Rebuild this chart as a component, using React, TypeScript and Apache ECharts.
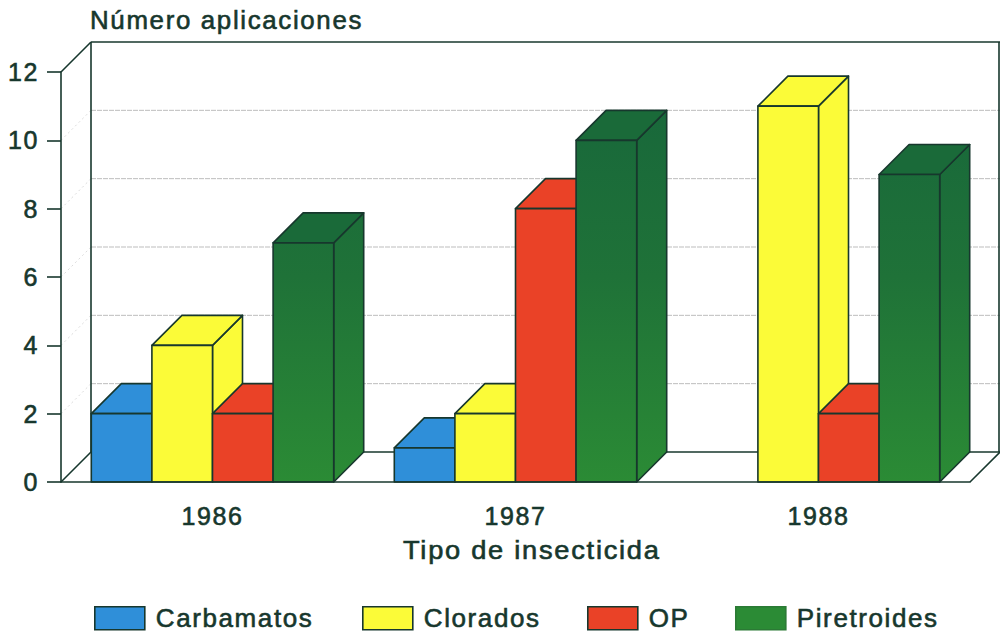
import React, { useEffect, useRef } from "react";
import * as echarts from "echarts";

const categories = ["1986", "1987", "1988"];
const seriesNames = ["Carbamatos", "Clorados", "OP", "Piretroides"];
const carbamatos = [2, 1, 0];
const clorados = [4, 2, 11];
const op = [2, 8, 2];
const piretroides = [7, 10, 9];
const gridValues = [2, 4, 6, 8, 10];
const allValues = [carbamatos, clorados, op, piretroides];
const yTitle = "Número aplicaciones";
const xTitle = "Tipo de insecticida";

const INK = "#17372d";
const FONT = "'Liberation Sans', Arial, sans-serif";
const DEPTH = 30;
const BAR_SHARE = 0.2;
const heavy = { textBorderColor: INK, textBorderWidth: 0.6 };

const greenFill = (api: any) => {
  const top = api.coord([0, 12])[1];
  const bottom = api.coord([0, 0])[1];
  return {
    type: "linear",
    global: true,
    x: 0,
    y: top,
    x2: 0,
    y2: bottom,
    colorStops: [
      { offset: 0, color: "#17663b" },
      { offset: 0.5, color: "#1f7238" },
      { offset: 1, color: "#2b8b35" },
    ],
  };
};

const faces = [
  () => ({ front: "#2f8fd9", side: "#2f8fd9", top: "#2f8fd9" }),
  () => ({ front: "#fbfb38", side: "#fbfb38", top: "#fbfb38" }),
  () => ({ front: "#ea4227", side: "#ea4227", top: "#ea4227" }),
  (api: any) => ({ front: greenFill(api), side: greenFill(api), top: "#1a6a39" }),
];

const polygon = (points: number[][], fill: any, stroke = INK) => ({
  type: "polygon",
  shape: { points },
  style: { fill, stroke, lineWidth: 1.6, lineJoin: "round" },
});

const barRenderer = (index: number) => (params: any, api: any) => {
  const value = api.value(1);
  if (!value) return { type: "group", children: [] };
  const [cx, y0] = api.coord([api.value(0), 0]);
  const [, y1] = api.coord([api.value(0), value]);
  const w = api.size([1, 0])[0] * BAR_SHARE;
  const x0 = cx + (index - 2) * w;
  const x1 = x0 + w;
  const f = faces[index](api);
  return {
    type: "group",
    children: [
      polygon([[x1, y0], [x1 + DEPTH, y0 - DEPTH], [x1 + DEPTH, y1 - DEPTH], [x1, y1]], f.side),
      polygon([[x0, y1], [x0 + DEPTH, y1 - DEPTH], [x1 + DEPTH, y1 - DEPTH], [x1, y1]], f.top),
      polygon([[x0, y0], [x1, y0], [x1, y1], [x0, y1]], f.front),
    ],
  };
};

const wallRenderer = (params: any, api: any) => {
  const band = api.size([1, 0])[0];
  const left = api.coord([0, 0])[0] - band / 2;
  const right = api.coord([categories.length - 1, 0])[0] + band / 2;
  const bottom = api.coord([0, 0])[1];
  const top = api.coord([0, 12])[1];
  const line = (x1: number, y1: number, x2: number, y2: number, stroke = INK, lineWidth = 1.6, lineDash?: number[]) => ({
    type: "line",
    shape: { x1, y1, x2, y2 },
    style: { stroke, lineWidth, lineDash },
  });
  return {
    type: "group",
    children: [
      ...gridValues.flatMap((v) => {
        const y = api.coord([0, v])[1];
        return [
          line(left, y, left + DEPTH, y - DEPTH, "#dcdcdc", 1, [2, 3]),
          line(left + DEPTH, y - DEPTH, right + DEPTH, y - DEPTH, "#bdbdbd", 1, [5, 1]),
        ];
      }),
      line(left, top, left + DEPTH, top - DEPTH),
      line(left + DEPTH, top - DEPTH, right + DEPTH, top - DEPTH),
      line(left + DEPTH, top - DEPTH, left + DEPTH, bottom - DEPTH),
      line(right + DEPTH - 1, top - DEPTH, right + DEPTH - 1, bottom - DEPTH),
      line(left + DEPTH, bottom - DEPTH, right + DEPTH, bottom - DEPTH),
      line(left, bottom, left + DEPTH, bottom - DEPTH),
      line(right, bottom, right + DEPTH, bottom - DEPTH),
    ],
  };
};

const legendLefts = [94, 362, 587, 735];
const legendColors = ["#2f8fd9", "#fbfb38", "#ea4227", "#2b8b35"];
const legendBorders = [INK, INK, INK, "#2b7a35"];

const titleText = (text: string, x: number, y: number, scaleX: number) => ({
  type: "text",
  x,
  y,
  scaleX,
  silent: true,
  style: { text, fill: INK, font: `25px ${FONT}`, stroke: INK, lineWidth: 0.6 },
});

export default function App() {
  const ref = useRef<HTMLDivElement>(null);
  useEffect(() => {
    const chart = echarts.init(ref.current!, undefined, { renderer: "svg" });
    chart.setOption({
      animation: false,
      backgroundColor: "#ffffff",
      grid: { left: 61, right: 30, top: 72, bottom: 153 },
      graphic: [
        titleText(yTitle, 90, 8, 1.035),
        titleText(xTitle, 403, 538, 1.09),
      ],
      legend: seriesNames.map((name, i) => ({
        data: [{ name, itemStyle: { color: legendColors[i], borderColor: legendBorders[i], borderWidth: 1.6 } }],
        left: legendLefts[i],
        top: 605,
        padding: 0,
        icon: "rect",
        itemWidth: 50,
        itemHeight: 23,
        itemGap: 0,
        selectedMode: false,
        textStyle: { color: INK, fontFamily: FONT, fontSize: 26, padding: [5, 0, 0, 6], ...heavy },
      })),
      xAxis: {
        type: "category",
        data: categories,
        z: 3,
        axisLine: { lineStyle: { color: INK, width: 1.6 } },
        axisTick: { alignWithLabel: true, length: 10, lineStyle: { color: INK, width: 1.6 } },
        axisLabel: { color: INK, fontFamily: FONT, fontSize: 25, margin: 21, ...heavy },
      },
      yAxis: {
        type: "value",
        min: 0,
        max: 12,
        interval: 2,
        z: 3,
        axisLine: { show: true, lineStyle: { color: INK, width: 1.6 } },
        axisTick: { show: true, length: 14, lineStyle: { color: INK, width: 1.6 } },
        axisLabel: { color: INK, fontFamily: FONT, fontSize: 25, margin: 22, ...heavy },
        splitLine: { show: false },
      },
      series: [
        {
          type: "custom",
          name: "wall",
          silent: true,
          z: 1,
          data: [[0, 0]],
          encode: { x: 0, y: 1 },
          renderItem: wallRenderer,
        },
        ...seriesNames.map((name, i) => ({
          type: "custom",
          name,
          silent: true,
          z: 2,
          itemStyle: { color: legendColors[i] },
          data: allValues[i].map((v, c) => [c, v]),
          encode: { x: 0, y: 1 },
          renderItem: barRenderer(i),
        })),
      ],
    });
    return () => chart.dispose();
  }, []);
  return (
    <div
      ref={ref}
      style={{ position: "absolute", left: 0, top: 0, width: 1000, height: 635, letterSpacing: "1.6px" }}
    />
  );
}
